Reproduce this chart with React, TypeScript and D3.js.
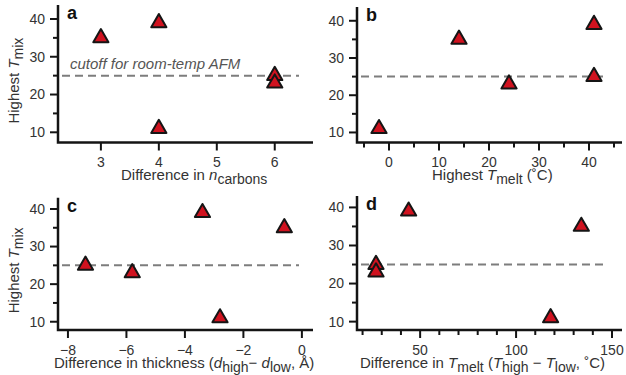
import React from "react";
import * as d3 from "d3";

// ---- data ----
const tmix = [35, 39, 11, 25, 23];
const nCarbonsDiff = [3, 4, 4, 6, 6];
const highestTmelt = [14, 41, -2, 41, 24];
const thicknessDiff = [-0.6, -3.4, -2.8, -7.4, -5.8];
const tmeltDiff = [134, 44, 118, 27, 27];
const cutoff = 25;
const yMajorTicks = [10, 20, 30, 40];
const yMinorTicks = [15, 25, 35];

const W = 626;
const H = 375;
const FONT = "'Liberation Sans', Arial, Helvetica, sans-serif";
const RED = "#d0121f";
const AXIS = "#141414";
const TEXT = "#333";

type Part = { t: string; italic?: boolean; sub?: boolean };

interface Panel {
  letter: string;
  xs: number[];
  xDomain: [number, number];
  xRange: [number, number];
  yDomain: [number, number];
  yRange: [number, number];
  xMajor: number[];
  xMinor: number[];
  xLabel: Part[];
  xLabelX: number;
  showYLabel: boolean;
  showCutoffText: boolean;
}

const panels: Panel[] = [
  {
    letter: "a",
    xs: nCarbonsDiff,
    xDomain: [2.26, 6.66],
    xRange: [58, 313],
    yDomain: [7.3, 43.7],
    yRange: [142.5, 5],
    xMajor: [3, 4, 5, 6],
    xMinor: [],
    xLabel: [
      { t: "Difference in " },
      { t: "n", italic: true },
      { t: "carbons", sub: true },
    ],
    xLabelX: 121,
    showYLabel: true,
    showCutoffText: true,
  },
  {
    letter: "b",
    xs: highestTmelt,
    xDomain: [-6.4, 46.6],
    xRange: [357, 622],
    yDomain: [7.3, 43.7],
    yRange: [142.5, 7],
    xMajor: [0, 10, 20, 30, 40],
    xMinor: [-5, 5, 15, 25, 35, 45],
    xLabel: [
      { t: "Highest " },
      { t: "T", italic: true },
      { t: "melt", sub: true },
      { t: " (˚C)" },
    ],
    xLabelX: 432,
    showYLabel: false,
    showCutoffText: false,
  },
  {
    letter: "c",
    xs: thicknessDiff,
    xDomain: [-8.34, 0.38],
    xRange: [58, 313],
    yDomain: [7.8, 43],
    yRange: [330, 197.7],
    xMajor: [-8, -6, -4, -2, 0],
    xMinor: [],
    xLabel: [
      { t: "Difference in thickness (" },
      { t: "d", italic: true },
      { t: "high", sub: true },
      { t: "− " },
      { t: "d", italic: true },
      { t: "low", sub: true },
      { t: ", Å)" },
    ],
    xLabelX: 54,
    showYLabel: true,
    showCutoffText: false,
  },
  {
    letter: "d",
    xs: tmeltDiff,
    xDomain: [17.1, 155.2],
    xRange: [357, 622],
    yDomain: [7.8, 43],
    yRange: [330, 196],
    xMajor: [50, 100, 150],
    xMinor: [20, 30, 40, 60, 70, 80, 90, 110, 120, 130, 140],
    xLabel: [
      { t: "Difference in " },
      { t: "T", italic: true },
      { t: "melt", sub: true },
      { t: " (" },
      { t: "T", italic: true },
      { t: "high", sub: true },
      { t: " − " },
      { t: "T", italic: true },
      { t: "low", sub: true },
      { t: ", ˚C)" },
    ],
    xLabelX: 360,
    showYLabel: false,
    showCutoffText: false,
  },
];

function RichText({
  parts,
  size,
  subSize,
}: {
  parts: Part[];
  size: number;
  subSize: number;
}) {
  let prevSub = false;
  return (
    <>
      {parts.map((p, i) => {
        let dy = 0;
        if (p.sub && !prevSub) dy = 4;
        else if (!p.sub && prevSub) dy = -4;
        prevSub = !!p.sub;
        return (
          <tspan
            key={i}
            dy={dy}
            fontStyle={p.italic ? "italic" : "normal"}
            fontSize={p.sub ? subSize : size}
          >
            {p.t}
          </tspan>
        );
      })}
    </>
  );
}

const triPath = d3.symbol(d3.symbolTriangle, 100)() as string;

function PanelView({ p }: { p: Panel }) {
  const x = d3.scaleLinear().domain(p.xDomain).range(p.xRange);
  const y = d3.scaleLinear().domain(p.yDomain).range(p.yRange);
  const x0 = p.xRange[0];
  const x1 = p.xRange[1];
  const yb = p.yRange[0];
  const yt = p.yRange[1];
  const major = 8;
  const minor = 5;
  const ymid = (y(10) + y(40)) / 2;
  return (
    <g>
      {/* cutoff line */}
      <line
        x1={x0 + 4}
        x2={x1 - 14}
        y1={y(cutoff)}
        y2={y(cutoff)}
        stroke="#7d7d7d"
        strokeWidth={2}
        strokeDasharray="8,5"
      />
      {p.showCutoffText && (
        <text
          x={x0 + 12}
          y={y(cutoff) - 6.5}
          fontFamily={FONT}
          fontSize={15}
          fontStyle="italic"
          fill="#555"
        >
          cutoff for room-temp AFM
        </text>
      )}
      {/* axes */}
      <path
        d={`M${x0},${yt}V${yb}H${x1}`}
        fill="none"
        stroke={AXIS}
        strokeWidth={2.5}
      />
      {yMajorTicks.map((v) => (
        <g key={"ym" + v}>
          <line x1={x0 - major} x2={x0} y1={y(v)} y2={y(v)} stroke={AXIS} strokeWidth={2} />
          <text
            x={x0 - major - 5}
            y={y(v)}
            dy="0.35em"
            textAnchor="end"
            fontFamily={FONT}
            fontSize={14}
            fill={TEXT}
          >
            {v}
          </text>
        </g>
      ))}
      {yMinorTicks.map((v) => (
        <line key={"yn" + v} x1={x0 - minor} x2={x0} y1={y(v)} y2={y(v)} stroke={AXIS} strokeWidth={2} />
      ))}
      {p.xMajor.map((v) => (
        <g key={"xm" + v}>
          <line x1={x(v)} x2={x(v)} y1={yb} y2={yb + major} stroke={AXIS} strokeWidth={2} />
          <text
            x={x(v)}
            y={yb + 24.5}
            textAnchor="middle"
            fontFamily={FONT}
            fontSize={14}
            fill={TEXT}
          >
            {v < 0 ? "−" + Math.abs(v) : String(v)}
          </text>
        </g>
      ))}
      {p.xMinor.map((v) => (
        <line key={"xn" + v} x1={x(v)} x2={x(v)} y1={yb} y2={yb + minor} stroke={AXIS} strokeWidth={2} />
      ))}
      {/* x label */}
      <text x={p.xLabelX} y={yb + 37.5} fontFamily={FONT} fontSize={15} fill={TEXT}>
        <RichText parts={p.xLabel} size={15} subSize={14} />
      </text>
      {/* y label */}
      {p.showYLabel && (
        <text
          transform={`translate(19,${ymid + 5}) rotate(-90)`}
          textAnchor="middle"
          fontFamily={FONT}
          fontSize={15}
          fill={TEXT}
        >
          <RichText
            parts={[{ t: "Highest " }, { t: "T", italic: true }, { t: "mix", sub: true }]}
            size={15}
            subSize={14}
          />
        </text>
      )}
      {/* panel letter */}
      <text
        x={x0 + 9}
        y={yt + 14}
        fontFamily={FONT}
        fontSize={18}
        fontWeight="bold"
        fill="#111"
      >
        {p.letter}
      </text>
      {/* points */}
      {p.xs.map((xv, i) => (
        <path
          key={i}
          d={triPath}
          transform={`translate(${x(xv)},${y(tmix[i])})`}
          fill={RED}
          stroke="#151515"
          strokeWidth={2}
          strokeLinejoin="round"
        />
      ))}
    </g>
  );
}

export default function App() {
  return (
    <svg
      width={W}
      height={H}
      viewBox={`0 0 ${W} ${H}`}
      style={{ position: "absolute", left: 0, top: 0, background: "#fff" }}
    >
      <rect width={W} height={H} fill="#fff" />
      {panels.map((p) => (
        <PanelView key={p.letter} p={p} />
      ))}
    </svg>
  );
}
